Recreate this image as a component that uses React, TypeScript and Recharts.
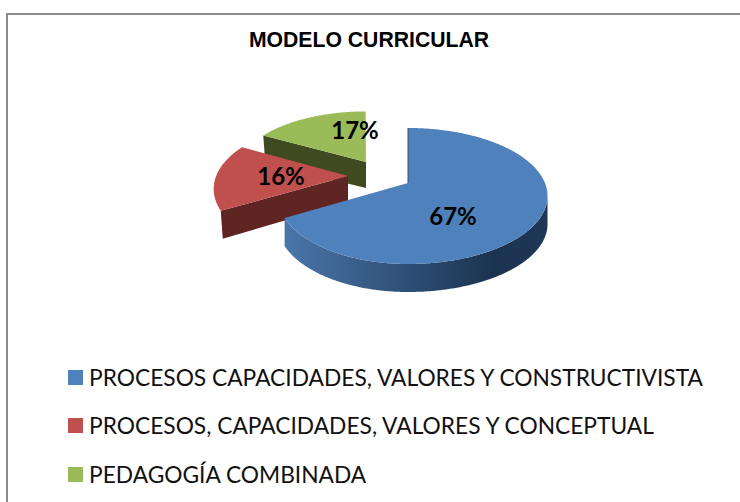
import React from "react";
import { PieChart, Pie, Legend, Customized } from "recharts";

const categories = [
  "PROCESOS CAPACIDADES, VALORES Y CONSTRUCTIVISTA",
  "PROCESOS, CAPACIDADES, VALORES Y CONCEPTUAL",
  "PEDAGOGÍA COMBINADA",
];
const values = [67, 16, 17];
const colors = ["#4f81bd", "#c0504d", "#9bbb59"];
const sideColors = ["url(#blueSide)", "#5e2523", "#3f4a20"];
const titleText = "MODELO CURRICULAR";

// Painted back to front, so the pie receives the slices in reverse order, counter-clockwise.
const rows = categories
  .map((name, i) => ({ name, value: values[i], fill: colors[i], side: sideColors[i], order: i }))
  .reverse();

const DEPTH = 28;
const TILT = 0.512;
const PERSPECTIVE = 0.191;
const explode = [[0, 0], [-60, -7], [-42, -21]];
const sliceScale = [[1, 1], [1.03, 1], [1, 0.92]];
const labelShift = [[45, 32], [-67, -1], [-11, -33]];

function project(deg: number, cx: number, cy: number, r: number, sx: number, sy: number): [number, number] {
  const t = (deg * Math.PI) / 180;
  const u = Math.sin(t);
  const v = -Math.cos(t);
  const w = 1 - PERSPECTIVE * v;
  return [cx + (sx * r * (u > 0 ? 1.07 : 1) * u) / w, cy + (sy * r * TILT * v) / w];
}

const toPath = (pts: [number, number][]) =>
  pts.map((p, i) => `${i ? "L" : "M"}${p[0].toFixed(2)},${p[1].toFixed(2)}`).join("") + "Z";

function Slice3D(props: any) {
  const { cx, cy, outerRadius, startAngle, endAngle, payload } = props;
  const order = payload.order;
  const X = cx + explode[order][0];
  const Y = cy + explode[order][1];
  const lo = (((90 - endAngle) % 360) + 360) % 360;
  const hi = lo + Math.abs(endAngle - startAngle);
  const arc: [number, number][] = [];
  for (let a = lo; a <= hi + 0.001; a += 0.5) {
    arc.push(project(a, X, Y, outerRadius, sliceScale[order][0], sliceScale[order][1]));
  }
  const top = toPath([[X, Y], ...arc]);

  // outer wall of the main slice: the part of the arc that faces the viewer
  const wall: [number, number][] = arc.filter((_, i) => lo + i * 0.5 >= 101);
  const wallPath =
    order === 0
      ? toPath([...wall, ...[...wall].reverse().map((p) => [p[0], p[1] + DEPTH] as [number, number])])
      : null;

  // cut wall on the lower edge of a detached slice
  const tip = arc[0];
  const cutPath =
    order > 0
      ? toPath([[X, Y], tip, [tip[0] + 2, tip[1] + DEPTH], [X, Y + DEPTH - 2]])
      : null;

  return (
    <g>
      <defs>
        <linearGradient id="blueSide" gradientUnits="userSpaceOnUse" x1="287" y1="0" x2="545" y2="0">
          <stop offset="0" stopColor="#4a75a8" />
          <stop offset="0.45" stopColor="#2f5078" />
          <stop offset="0.8" stopColor="#1c3350" />
          <stop offset="1" stopColor="#1f3756" />
        </linearGradient>
      </defs>
      {wallPath && <path d={wallPath} fill={payload.side} />}
      {cutPath && <path d={cutPath} fill={payload.side} />}
      <path d={top} fill={payload.fill} />
      {order === 0 && (
        <line x1={X} y1={Y} x2={arc[0][0]} y2={arc[0][1]} stroke="#2f5078" strokeWidth={1} />
      )}
    </g>
  );
}

function SliceLabel(props: any) {
  const { cx, cy, index } = props;
  const order = rows[index].order;
  return (
    <text
      x={cx + explode[order][0] + labelShift[order][0]}
      y={cy + explode[order][1] + labelShift[order][1]}
      textAnchor="middle"
      dominantBaseline="central"
      fontFamily="Lato, Carlito, sans-serif"
      fontWeight={700}
      fontSize={24}
      fill="#000"
    >
      {rows[index].value}%
    </text>
  );
}

function LegendList({ payload }: any) {
  const items = [...(payload || [])].reverse();
  return (
    <div>
      {items.map((it: any) => (
        <div key={it.value} style={{ display: "flex", alignItems: "center", height: 48.5 }}>
          <span style={{ width: 15, height: 15, background: it.color, marginRight: 6, display: "block" }} />
          <span style={{ fontFamily: "Lato, Carlito, sans-serif", fontSize: 22.75, color: "#111", whiteSpace: "nowrap" }}>
            {it.value}
          </span>
        </div>
      ))}
    </div>
  );
}

const Title = () => (
  <text
    x={369}
    y={47}
    textAnchor="middle"
    fontFamily="'Liberation Sans', Arial, sans-serif"
    fontWeight={700}
    fontSize={21.2}
    fill="#000"
  >
    {titleText}
  </text>
);

export default function App() {
  return (
    <div style={{ position: "absolute", left: 0, top: 0, width: 740, height: 502, overflow: "hidden", background: "#fff" }}>
      <div
        style={{
          position: "absolute",
          left: 6,
          top: 13,
          right: 0,
          bottom: 0,
          borderTop: "2px solid #8c8c8c",
          borderLeft: "2px solid #8c8c8c",
        }}
      />
      <PieChart
        width={740}
        height={502}
        margin={{ top: 0, right: 0, bottom: 0, left: 0 }}
        style={{ position: "absolute", left: 0, top: 0 }}
      >
        <Customized component={Title} />
        <Pie
          data={rows}
          dataKey="value"
          nameKey="name"
          cx={408}
          cy={183}
          outerRadius={128}
          startAngle={90}
          endAngle={450}
          stroke="none"
          shape={Slice3D}
          label={SliceLabel}
          labelLine={false}
          isAnimationActive={false}
        />
        <Legend
          content={LegendList as any}
          itemSorter={null as any}
          wrapperStyle={{ position: "absolute", left: 68, top: 353, width: 660, bottom: "auto" }}
        />
      </PieChart>
    </div>
  );
}
